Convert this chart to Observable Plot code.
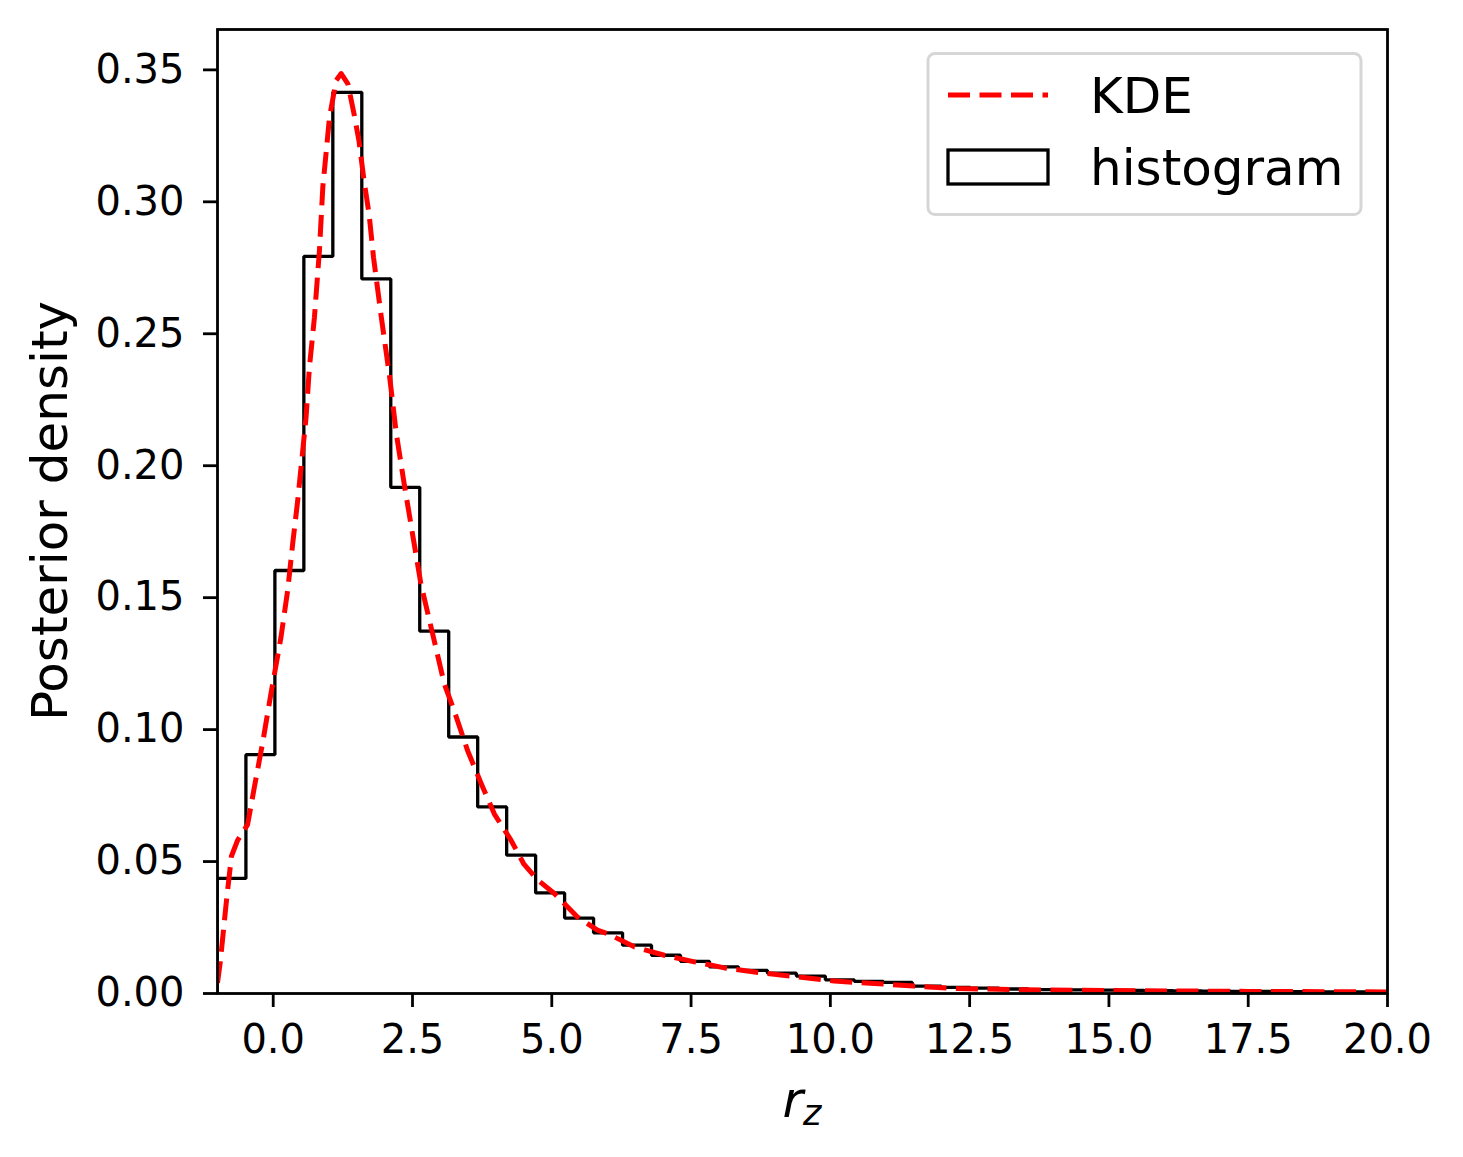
<!DOCTYPE html>
<html><head><meta charset="utf-8">
<script src="https://cdn.jsdelivr.net/npm/d3@7"></script>
<script src="https://cdn.jsdelivr.net/npm/@observablehq/plot@0.6"></script>
<style>body{margin:0;background:#fff} #chart{width:1463px;height:1157px}</style>
</head><body><div id="chart"></div>
<script>
// ---- data ----
const binStart = -1.01;
const binWidth = 0.52;
const histHeights = [
  0.0436, 0.0905, 0.1603, 0.2793, 0.3415, 0.2708, 0.1918, 0.1373, 0.0972, 0.0707,
  0.0524, 0.0381, 0.0286, 0.0230, 0.0183, 0.0145, 0.0122, 0.0101, 0.0088, 0.0077,
  0.0066, 0.0052, 0.0046, 0.0042, 0.0028, 0.0023, 0.0020, 0.0017, 0.0015, 0.0014,
  0.0013, 0.0012, 0.0011, 0.0010, 0.0009, 0.0008, 0.0008, 0.0007, 0.0006, 0.0006, 0.0005
];
const kdeX = [-1.0, -0.95, -0.84, -0.75, -0.64, -0.46, -0.34, -0.19, -0.04, 0.14,
  0.26, 0.35, 0.44, 0.53, 0.59, 0.65, 0.74, 0.83, 0.89, 1.01,
  1.13, 1.22, 1.34, 1.45, 1.54, 1.63, 1.72, 1.80, 1.94, 2.09,
  2.21, 2.35, 2.50, 2.65, 2.86, 3.07, 3.25, 3.49, 3.73, 3.97,
  4.27, 4.50, 4.75, 5.04, 5.46, 5.82, 6.00, 6.48, 7.02, 7.56,
  8.10, 8.76, 9.41, 10.07, 10.79, 11.50, 12.28, 13.5, 15.0, 17.5, 20.0];
const kdeY = [0.004, 0.012, 0.035, 0.052, 0.058, 0.064, 0.078, 0.095, 0.1137, 0.1351,
  0.1528, 0.1705, 0.1869, 0.2058, 0.2184, 0.2373, 0.2563, 0.2816, 0.3055, 0.332,
  0.346, 0.3486, 0.3447, 0.3334, 0.323, 0.308, 0.2955, 0.279, 0.2563, 0.2336,
  0.2121, 0.1932, 0.1742, 0.1553, 0.1364, 0.1174, 0.107, 0.092, 0.0797, 0.068,
  0.058, 0.049, 0.043, 0.038, 0.029, 0.024, 0.0227, 0.0177, 0.0145, 0.012,
  0.0097, 0.0078, 0.0063, 0.0047, 0.0038, 0.0028, 0.0019, 0.0014, 0.0011, 0.0008, 0.0006];
const xTicks = [0, 2.5, 5, 7.5, 10, 12.5, 15, 17.5, 20];
const yTicks = [0, 0.05, 0.10, 0.15, 0.20, 0.25, 0.30, 0.35];
const xLabelMain = "r";
const xLabelSub = "z";
const yLabel = "Posterior density";
const legendLabels = ["KDE", "histogram"];

// ---- build tables ----
const nBins = histHeights.length;
const histPts = [{x: binStart, y: 0}]
  .concat(histHeights.map((h, i) => ({x: binStart + i * binWidth, y: h})))
  .concat([{x: binStart + nBins * binWidth, y: histHeights[nBins - 1]}]);
const kde = kdeX.map((x, i) => ({x, y: kdeY[i]}));

const W = 1463, H = 1157, mL = 217, mR = 76, mT = 29, mB = 164;
const plot = Plot.plot({
  width: W, height: H,
  marginLeft: mL, marginRight: mR, marginTop: mT, marginBottom: mB,
  style: {fontFamily: "DejaVu Sans", background: "#fff", color: "#000"},
  x: {domain: [-1, 20]},
  y: {domain: [0, 0.3653]},
  marks: [
    Plot.line(histPts, {x: "x", y: "y", curve: "step-after", stroke: "black", strokeWidth: 3.3,
      strokeLinejoin: "miter", strokeLinecap: "butt", clip: true}),
    Plot.line(kde, {x: "x", y: "y", curve: "linear", stroke: "red", strokeWidth: 5,
      strokeDasharray: "22,9.5", strokeLinecap: "butt", clip: true}),
    Plot.frame({stroke: "black", strokeWidth: 2.8}),
    Plot.axisX({ticks: xTicks, tickFormat: d3.format(".1f"), tickSize: 14, tickPadding: 17,
      strokeWidth: 2.8, fontSize: 40, label: null}),
    Plot.axisY({ticks: yTicks, tickFormat: d3.format(".2f"), tickSize: 14, tickPadding: 19,
      strokeWidth: 2.8, fontSize: 40, label: null})
  ]
});
document.getElementById("chart").appendChild(plot);

const svg = d3.select(plot);
// axis labels
const xl = svg.append("text")
  .attr("x", (mL + W - mR) / 2).attr("y", 1117)
  .attr("text-anchor", "middle")
  .attr("font-family", "DejaVu Sans").attr("font-size", 50).attr("font-style", "italic")
  .attr("fill", "#000");
xl.append("tspan").text(xLabelMain);
xl.append("tspan").attr("font-size", 35).attr("dy", 8).text(xLabelSub);

svg.append("text")
  .attr("transform", `translate(67,${(mT + H - mB) / 2}) rotate(-90)`)
  .attr("text-anchor", "middle")
  .attr("font-family", "DejaVu Sans").attr("font-size", 50)
  .attr("fill", "#000").text(yLabel);

// legend
const lg = svg.append("g");
lg.append("rect").attr("x", 928).attr("y", 53.5).attr("width", 433).attr("height", 161)
  .attr("rx", 7).attr("fill", "#fff").attr("stroke", "#d6d6d6").attr("stroke-width", 3);
lg.append("line").attr("x1", 948).attr("x2", 1048).attr("y1", 95).attr("y2", 95)
  .attr("stroke", "red").attr("stroke-width", 5).attr("stroke-dasharray", "22,9.5");
lg.append("rect").attr("x", 948).attr("y", 150).attr("width", 100).attr("height", 34)
  .attr("fill", "none").attr("stroke", "black").attr("stroke-width", 3.3);
lg.append("text").attr("x", 1090).attr("y", 113).attr("text-anchor", "start")
  .attr("font-family", "DejaVu Sans").attr("font-size", 50).attr("fill", "#000").text(legendLabels[0]);
lg.append("text").attr("x", 1090).attr("y", 185).attr("text-anchor", "start")
  .attr("font-family", "DejaVu Sans").attr("font-size", 50).attr("fill", "#000").text(legendLabels[1]);
</script>
</body></html>
